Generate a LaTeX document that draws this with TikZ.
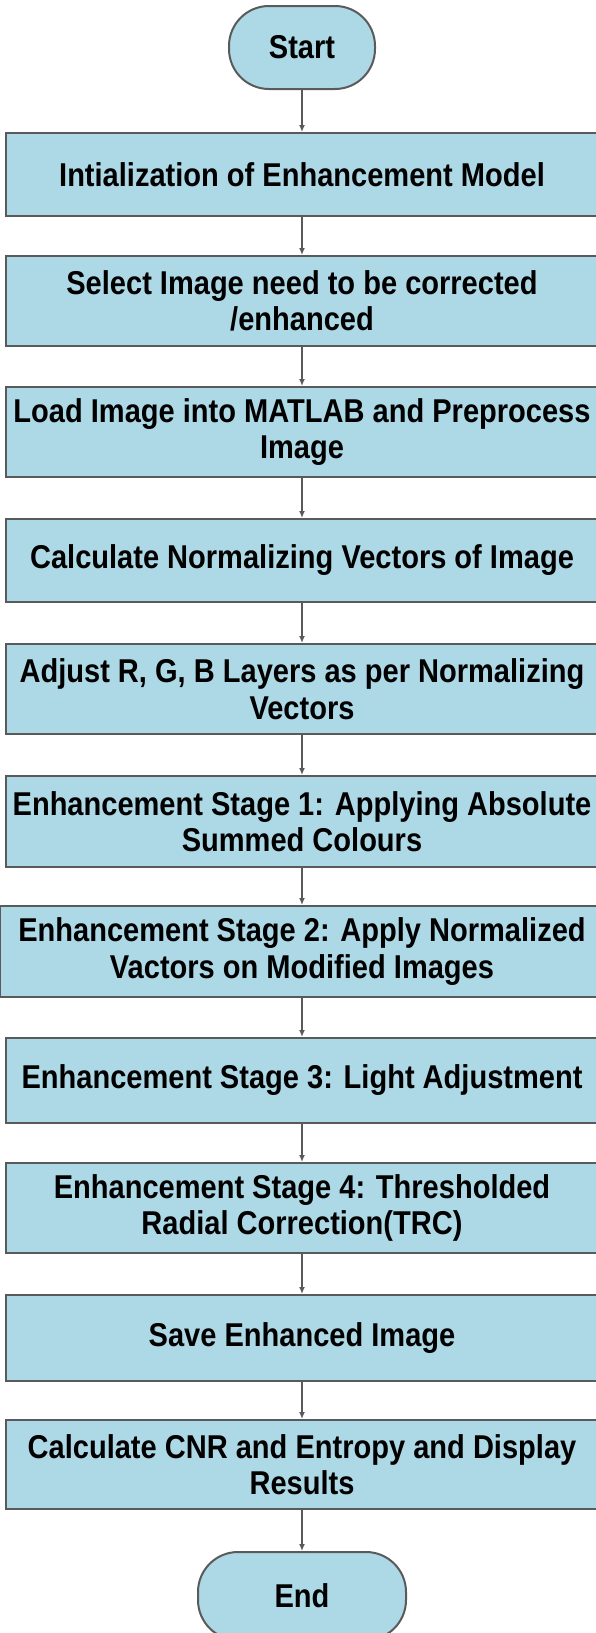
\documentclass[tikz,border=0pt]{standalone}
\usepackage{fontspec}
\setmainfont{Liberation Sans}[FakeStretch=0.88]
\usetikzlibrary{arrows.meta}
\definecolor{boxfill}{HTML}{ADD8E6}
\definecolor{boxline}{HTML}{5A5A5A}
\tikzset{
  stepbox/.style={draw=boxline, line width=2pt, fill=boxfill, align=center,
    inner sep=0pt, font=\fontsize{33}{36.5}\selectfont\bfseries},
  termbox/.style={stepbox, rounded corners=40pt},
  flow/.style={draw=boxline, line width=1.4pt, -{Latex[length=7pt,width=6pt]}}
}
\begin{document}
\begin{tikzpicture}[x=1pt,y=-1pt]
\useasboundingbox (0,0) rectangle (596,1633);
\clip (0,0) rectangle (596,1633);
\node[termbox, minimum width=146pt, minimum height=83pt] (s) at (302,47.5) {Start};
\node[stepbox, minimum width=592pt, minimum height=83pt] (b1) at (302,174.5) {Intialization of Enhancement Model};
\node[stepbox, minimum width=592pt, minimum height=90pt] (b2) at (302,301) {Select Image need to be corrected\\/enhanced};
\node[stepbox, minimum width=592pt, minimum height=90pt] (b3) at (302,432) {Load Image into MATLAB and Preprocess\\Image};
\node[stepbox, minimum width=592pt, minimum height=83pt] (b4) at (302,560.5) {Calculate Normalizing Vectors of Image};
\node[stepbox, minimum width=592pt, minimum height=90pt] (b5) at (302,689) {Adjust R, G, B Layers as per Normalizing\\Vectors};
\node[stepbox, minimum width=592pt, minimum height=91pt] (b6) at (302,821.5) {Enhancement Stage 1: Applying Absolute\\Summed Colours};
\node[stepbox, minimum width=604pt, minimum height=91pt] (b7) at (302,951.5) {Enhancement Stage 2: Apply Normalized\\Vactors on Modified Images};
\node[stepbox, minimum width=592pt, minimum height=85pt] (b8) at (302,1080.5) {Enhancement Stage 3: Light Adjustment};
\node[stepbox, minimum width=592pt, minimum height=90pt] (b9) at (302,1208) {Enhancement Stage 4: Thresholded\\Radial Correction(TRC)};
\node[stepbox, minimum width=592pt, minimum height=86pt] (b10) at (302,1338) {Save Enhanced Image};
\node[stepbox, minimum width=592pt, minimum height=89pt] (b11) at (302,1464.5) {Calculate CNR and Entropy and Display\\Results};
\node[termbox, minimum width=208pt, minimum height=88pt] (e) at (302,1596) {End};
\draw[flow] (s) -- (b1);
\draw[flow] (b1) -- (b2);
\draw[flow] (b2) -- (b3);
\draw[flow] (b3) -- (b4);
\draw[flow] (b4) -- (b5);
\draw[flow] (b5) -- (b6);
\draw[flow] (b6) -- (b7);
\draw[flow] (b7) -- (b8);
\draw[flow] (b8) -- (b9);
\draw[flow] (b9) -- (b10);
\draw[flow] (b10) -- (b11);
\draw[flow] (b11) -- (e);
\end{tikzpicture}
\end{document}
